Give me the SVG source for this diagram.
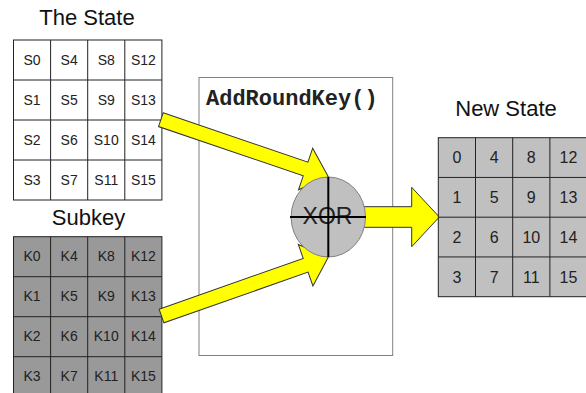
<svg xmlns="http://www.w3.org/2000/svg" width="586" height="393" viewBox="0 0 586 393">
<style>
.title{font-family:"Liberation Sans",Arial,sans-serif;font-size:22px;fill:#111;text-anchor:middle}
.cell{font-family:"Liberation Sans",Arial,sans-serif;font-size:14px;fill:#222;text-anchor:middle}
.num{font-family:"Liberation Sans",Arial,sans-serif;font-size:16px;fill:#222;text-anchor:middle}
.grid{stroke:#222;stroke-width:1}
.arrow{fill:#ffff00;stroke:#333;stroke-width:1;stroke-linejoin:miter}
</style>
<rect width="586" height="393" fill="#ffffff"/>

<g id="state">
<text class="title" x="87" y="25">The State</text>
<rect x="13.5" y="40" width="148.4" height="160" fill="#ffffff" class="grid"/>
<path class="grid" d="M50.6 40V200M87.7 40V200M124.8 40V200M13.5 80H161.9M13.5 120H161.9M13.5 160H161.9"/>
<text class="cell" x="32.05" y="65">S0</text><text class="cell" x="69.15" y="65">S4</text><text class="cell" x="106.25" y="65">S8</text><text class="cell" x="143.35" y="65">S12</text>
<text class="cell" x="32.05" y="105">S1</text><text class="cell" x="69.15" y="105">S5</text><text class="cell" x="106.25" y="105">S9</text><text class="cell" x="143.35" y="105">S13</text>
<text class="cell" x="32.05" y="145">S2</text><text class="cell" x="69.15" y="145">S6</text><text class="cell" x="106.25" y="145">S10</text><text class="cell" x="143.35" y="145">S14</text>
<text class="cell" x="32.05" y="185">S3</text><text class="cell" x="69.15" y="185">S7</text><text class="cell" x="106.25" y="185">S11</text><text class="cell" x="143.35" y="185">S15</text>
</g>

<g id="subkey">
<text class="title" x="88.5" y="225">Subkey</text>
<rect x="13.5" y="236.7" width="148.4" height="160" fill="#999999" class="grid"/>
<path class="grid" d="M50.6 236.7V396.7M87.7 236.7V396.7M124.8 236.7V396.7M13.5 276.7H161.9M13.5 316.7H161.9M13.5 356.7H161.9"/>
<text class="cell" x="32.05" y="261.2">K0</text><text class="cell" x="69.15" y="261.2">K4</text><text class="cell" x="106.25" y="261.2">K8</text><text class="cell" x="143.35" y="261.2">K12</text>
<text class="cell" x="32.05" y="301.2">K1</text><text class="cell" x="69.15" y="301.2">K5</text><text class="cell" x="106.25" y="301.2">K9</text><text class="cell" x="143.35" y="301.2">K13</text>
<text class="cell" x="32.05" y="341.2">K2</text><text class="cell" x="69.15" y="341.2">K6</text><text class="cell" x="106.25" y="341.2">K10</text><text class="cell" x="143.35" y="341.2">K14</text>
<text class="cell" x="32.05" y="381.2">K3</text><text class="cell" x="69.15" y="381.2">K7</text><text class="cell" x="106.25" y="381.2">K11</text><text class="cell" x="143.35" y="381.2">K15</text>
</g>

<g id="addroundkey">
<rect x="199" y="77.5" width="193.7" height="278" fill="#ffffff" stroke="#808080" stroke-width="1"/>
<text x="206" y="105" font-family="'Liberation Mono','Courier New',monospace" font-weight="bold" font-size="22" fill="#222">AddRoundKey()</text>
</g>

<g id="connectors">
<polygon class="arrow" transform="translate(160.85,119.7) rotate(18.8)" points="0,-7.25 152.9,-7.25 152.9,-22 176.9,0 152.9,22 152.9,7.25 0,7.25"/>
<polygon class="arrow" transform="translate(161.5,316) rotate(-19.4)" points="0,-7.25 152.8,-7.25 152.8,-22 176.8,0 152.8,22 152.8,7.25 0,7.25"/>
<polygon class="arrow" points="350,206.7 411.7,206.7 411.7,187.3 439.3,217 411.7,246.7 411.7,227.3 350,227.3"/>
</g>

<g id="xor">
<ellipse cx="328.3" cy="217" rx="37.2" ry="40" fill="#c0c0c0" stroke="#808080" stroke-width="1"/>
<text x="327.5" y="224" font-family="'Liberation Sans',Arial,sans-serif" font-size="23" fill="#222" text-anchor="middle">XOR</text>
<path d="M328.3 177V257M290 217H366" stroke="#000" stroke-width="2"/>
</g>

<g id="newstate">
<text class="title" x="506" y="115.5">New State</text>
<rect x="438.3" y="137.7" width="148.8" height="159" fill="#c0c0c0" class="grid"/>
<path class="grid" d="M475.5 137.7V296.7M512.7 137.7V296.7M549.9 137.7V296.7M438.3 177.45H587M438.3 217.2H587M438.3 256.95H587"/>
<text class="num" x="456.9" y="163.3">0</text><text class="num" x="494.1" y="163.3">4</text><text class="num" x="531.3" y="163.3">8</text><text class="num" x="568.5" y="163.3">12</text>
<text class="num" x="456.9" y="203">1</text><text class="num" x="494.1" y="203">5</text><text class="num" x="531.3" y="203">9</text><text class="num" x="568.5" y="203">13</text>
<text class="num" x="456.9" y="242.8">2</text><text class="num" x="494.1" y="242.8">6</text><text class="num" x="531.3" y="242.8">10</text><text class="num" x="568.5" y="242.8">14</text>
<text class="num" x="456.9" y="282.5">3</text><text class="num" x="494.1" y="282.5">7</text><text class="num" x="531.3" y="282.5">11</text><text class="num" x="568.5" y="282.5">15</text>
</g>
</svg>
